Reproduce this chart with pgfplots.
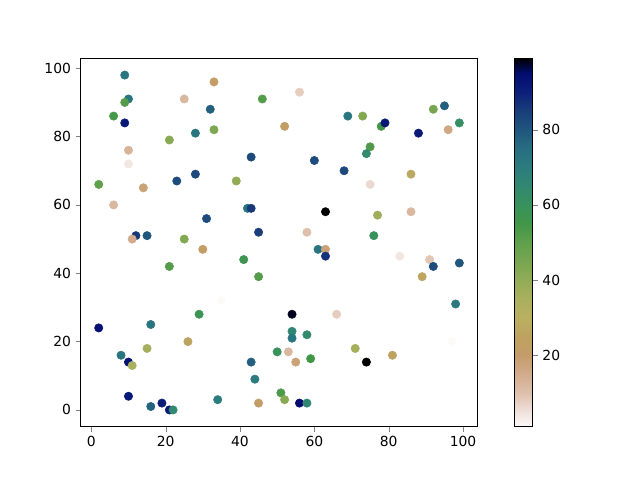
\documentclass[border=0pt]{standalone}
\usepackage{fontspec}
\setmainfont{DejaVu Sans}
\usepackage{pgfplots}
\pgfplotsset{compat=1.18}

\pgfplotsset{
  colormap={gistearthr}{
    rgb255(1)=(253,250,250)
    rgb255(5)=(240,225,220)
    rgb255(10)=(222,192,172)
    rgb255(15)=(210,172,140)
    rgb255(20)=(196,156,106)
    rgb255(25)=(190,162,96)
    rgb255(30)=(186,176,96)
    rgb255(35)=(170,176,94)
    rgb255(40)=(146,172,86)
    rgb255(45)=(120,166,80)
    rgb255(50)=(96,160,76)
    rgb255(55)=(66,150,72)
    rgb255(60)=(56,146,92)
    rgb255(65)=(50,136,112)
    rgb255(70)=(44,124,126)
    rgb255(75)=(40,110,130)
    rgb255(80)=(32,86,126)
    rgb255(85)=(25,62,122)
    rgb255(90)=(12,32,122)
    rgb255(95)=(2,12,112)
    rgb255(99)=(0,0,0)
  }
}

\pgfplotstableread{
x y c
9 98 72
10 91 72
9 90 52
6 86 54
9 84 92
25 91 12
33 96 22
32 88 78
46 91 52
28 81 72
33 82 44
21 79 42
10 76 13
10 72 4
43 74 82
2 66 50
14 65 18
23 67 82
28 69 83
39 67 40
6 60 12
42 59 72
43 59 86
31 56 82
45 52 85
12 51 86
15 51 80
11 50 15
25 50 43
30 47 22
21 42 52
41 44 57
45 39 52
35 32 1
2 24 94
16 25 72
29 28 58
26 20 25
15 18 36
8 16 72
10 14 94
11 13 35
10 4 92
16 1 77
19 2 91
21 0 92
22 0 65
34 3 70
43 14 78
44 9 70
45 2 22
50 17 60
56 93 8
52 83 22
69 86 72
73 86 43
78 83 55
79 84 92
92 88 45
95 89 78
99 84 62
96 82 16
88 81 92
75 77 53
74 75 64
60 73 82
68 70 83
86 69 27
75 66 6
63 58 99
77 57 38
86 58 12
58 52 10
76 51 60
61 47 72
63 47 18
63 45 87
83 45 4
91 44 9
92 42 82
99 43 80
89 39 26
98 31 71
54 28 98
66 28 8
54 23 66
54 21 72
58 22 64
97 20 1
53 17 12
55 14 18
59 15 55
71 18 36
74 14 99
81 16 25
51 5 53
52 3 42
56 2 95
58 2 66
}\pointdata

\begin{document}
\begin{tikzpicture}
\path[use as bounding box] (-58.1pt,-38.4pt) rectangle (402.7pt,307.2pt);
\begin{axis}[
  at={(0pt,0pt)}, anchor=south west,
  scale only axis,
  width=285.6pt, height=265.2pt,
  xmin=-2.85, xmax=103.85,
  ymin=-4.9, ymax=102.9,
  xtick={0,20,40,60,80,100},
  ytick={0,20,40,60,80,100},
  tick align=outside,
  tick pos=left,
  major tick length=3.5pt,
  tick label style={font=\fontsize{10}{12}\selectfont},
  /pgf/number format/assume math mode=true,
  colormap name=gistearthr,
  point meta min=1, point meta max=99,
  colorbar,
  colorbar style={
    at={(parent axis.north east)}, anchor=north west,
    xshift=18.3pt,
    width=13pt,
    ytick={20,40,60,80},
    tick align=outside,
    ytick pos=right,
    major tick length=3.5pt,
    yticklabel pos=right,
    tick label style={font=\fontsize{10}{12}\selectfont},
    /pgf/number format/assume math mode=true,
  },
]
\addplot[scatter, only marks, mark=*, mark size=3pt, scatter src=explicit,
  scatter/use mapped color={draw=mapped color, fill=mapped color}]
  table[x=x, y=y, meta=c] {\pointdata};
\end{axis}
\end{tikzpicture}
\end{document}
